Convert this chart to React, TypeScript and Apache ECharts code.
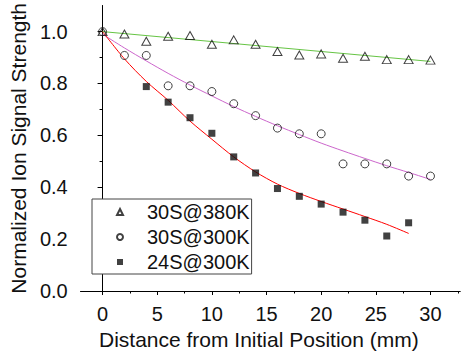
import React, { useEffect, useRef } from "react";
import * as echarts from "echarts";

// Measured data (distance in mm, normalized signal)
const dist30 = [0, 2, 4, 6, 8, 10, 12, 14, 16, 18, 20, 22, 24, 26, 28, 30];
const s380K = [1.0, 0.991, 0.963, 0.982, 0.985, 0.951, 0.968, 0.951, 0.923, 0.91, 0.914, 0.897, 0.905, 0.892, 0.892, 0.89];
const s300K = [1.0, 0.908, 0.908, 0.791, 0.791, 0.769, 0.722, 0.676, 0.628, 0.606, 0.606, 0.49, 0.49, 0.49, 0.443, 0.443];
const dist24 = [4, 6, 8, 10, 12, 14, 16, 18, 20, 22, 24, 26, 28];
const s24S300K = [0.788, 0.728, 0.668, 0.608, 0.517, 0.455, 0.395, 0.365, 0.335, 0.304, 0.273, 0.212, 0.263];

// Fitted curves
const fitGreenX = [0, 30];
const fitGreenY = [1.0, 0.885];
const fitPurpleX = [0, 2, 4, 6, 8, 10, 12, 14, 16, 18, 20, 22, 24, 26, 28, 30];
const fitPurpleY = [0.99, 0.937, 0.887, 0.839, 0.794, 0.752, 0.711, 0.673, 0.637, 0.603, 0.57, 0.54, 0.511, 0.483, 0.457, 0.43];
const fitRedX = [0, 2, 4, 6, 8, 10, 12, 14, 16, 18, 20, 22, 24, 26, 28];
const fitRedY = [1.0, 0.895, 0.808, 0.735, 0.655, 0.585, 0.517, 0.459, 0.412, 0.376, 0.345, 0.316, 0.287, 0.257, 0.222];

const seriesNames = ["30S@380K", "30S@300K", "24S@300K"];
const xMajorTicks = [0, 5, 10, 15, 20, 25, 30];
const xMinorTicks = [2.5, 7.5, 12.5, 17.5, 22.5, 27.5, 32.5];
const yMajorTicks = [0, 0.2, 0.4, 0.6, 0.8, 1.0];
const yMinorTicks = [0.1, 0.3, 0.5, 0.7, 0.9];

const FONT = "'Liberation Sans', Arial, Helvetica, sans-serif";

const zip = (xs: number[], ys: number[]) => xs.map((x, i) => [x, ys[i]]);

export default function App() {
  const ref = useRef<HTMLDivElement>(null);
  useEffect(() => {
    if (!ref.current) return;
    const chart = echarts.init(ref.current, null, { renderer: "svg" });
    const axisColor = "#000";
    chart.setOption({
      animation: false,
      backgroundColor: "#fff",
      textStyle: { fontFamily: FONT },
      grid: { left: 80, right: 1, top: 5, bottom: 67, containLabel: false },
      legend: {
        data: seriesNames,
        orient: "vertical",
        left: 92,
        top: 199,
        itemWidth: 6,
        itemHeight: 6,
        itemGap: 5,
        padding: [3, 2, 2, 24],
        borderColor: "#444",
        borderWidth: 1,
        backgroundColor: "#fff",
        textStyle: { fontSize: 20, color: "#111", fontFamily: FONT, lineHeight: 20, padding: [0, 0, 0, 19] },
      },
      xAxis: [
        {
          type: "value",
          min: -2,
          max: 32.7,
          position: "bottom",
          splitLine: { show: false },
          axisLine: { show: true, lineStyle: { color: axisColor, width: 1 } },
          axisTick: { show: true, customValues: xMajorTicks, length: 4, lineStyle: { color: axisColor } },
          axisLabel: { customValues: xMajorTicks, fontSize: 20, color: "#111", margin: 13, fontFamily: FONT },
          name: "Distance from Initial Position (mm)",
          nameLocation: "middle",
          nameGap: 34,
          nameTextStyle: { fontSize: 21, color: "#111", fontFamily: FONT, padding: [0, 23, 0, 0] },
        },
        {
          type: "value",
          min: -2,
          max: 32.7,
          position: "bottom",
          splitLine: { show: false },
          axisLine: { show: true, lineStyle: { color: axisColor, width: 1 } },
          axisTick: { show: true, customValues: xMinorTicks, length: 2.5, lineStyle: { color: axisColor } },
          axisLabel: { show: false },
        },
      ],
      yAxis: [
        {
          type: "value",
          min: 0,
          max: 1.1,
          position: "left",
          splitLine: { show: false },
          axisLine: { show: true, lineStyle: { color: axisColor, width: 1 } },
          axisTick: { show: true, customValues: yMajorTicks, length: 5, lineStyle: { color: axisColor } },
          axisLabel: {
            customValues: yMajorTicks,
            fontSize: 20,
            color: "#111",
            margin: 13,
            fontFamily: FONT,
            formatter: (v: number) => v.toFixed(1),
          },
          name: "Normalized Ion Signal Strength",
          nameLocation: "middle",
          nameGap: 47,
          nameTextStyle: { fontSize: 21, color: "#111", fontFamily: FONT },
        },
        {
          type: "value",
          min: 0,
          max: 1.1,
          position: "left",
          splitLine: { show: false },
          axisLine: { show: true, lineStyle: { color: axisColor, width: 1 } },
          axisTick: { show: true, customValues: yMinorTicks, length: 3, lineStyle: { color: axisColor } },
          axisLabel: { show: false },
        },
      ],
      series: [
        {
          name: "fit380",
          type: "line",
          data: zip(fitGreenX, fitGreenY),
          showSymbol: false,
          lineStyle: { color: "#66c444", width: 1 },
          z: 1,
        },
        {
          name: "fit300",
          type: "line",
          data: zip(fitPurpleX, fitPurpleY),
          showSymbol: false,
          smooth: 0.3,
          lineStyle: { color: "#cc66cc", width: 1 },
          z: 1,
        },
        {
          name: "fit24",
          type: "line",
          data: zip(fitRedX, fitRedY),
          showSymbol: false,
          smooth: 0.3,
          lineStyle: { color: "#ff0000", width: 1 },
          z: 1,
        },
        {
          name: seriesNames[2],
          type: "scatter",
          data: zip(dist24, s24S300K),
          symbol: "rect",
          symbolSize: 7,
          itemStyle: { color: "#111", borderColor: "#111", borderWidth: 0 },
          z: 3,
        },
        {
          name: seriesNames[1],
          type: "scatter",
          data: zip(dist30, s300K),
          symbol: "circle",
          symbolSize: 8,
          itemStyle: { color: "transparent", borderColor: "#111", borderWidth: 1 },
          z: 3,
        },
        {
          name: seriesNames[0],
          type: "scatter",
          data: zip(dist30, s380K),
          symbol: "triangle",
          symbolSize: [9, 8],
          itemStyle: { color: "transparent", borderColor: "#111", borderWidth: 1 },
          z: 3,
        },
      ],
    });
    return () => chart.dispose();
  }, []);
  return (
    <div
      ref={ref}
      style={{ position: "fixed", left: 0, top: 0, width: 461, height: 358, background: "#fff" }}
    />
  );
}
